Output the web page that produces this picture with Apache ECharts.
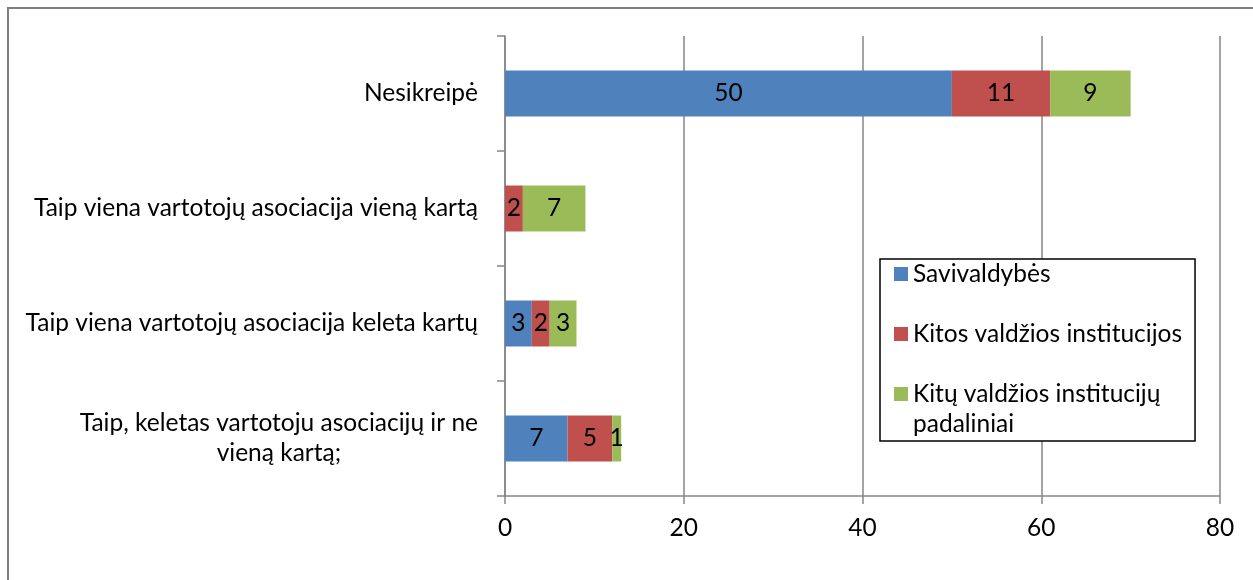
<!DOCTYPE html>
<html>
<head>
<meta charset="utf-8">
<script src="https://cdn.jsdelivr.net/npm/echarts@6/dist/echarts.min.js"></script>
<style>
html,body{margin:0;padding:0;background:#fff;overflow:hidden;}
#chart{position:absolute;left:0;top:0;width:1253px;height:580px;}
#frame{position:absolute;left:7px;top:7px;width:1400px;height:800px;border-left:2px solid #808080;border-top:2px solid #808080;pointer-events:none;}
</style>
</head>
<body>
<div id="chart"></div>
<div id="frame"></div>
<script>
const categories = [
  'Nesikreipė',
  'Taip viena vartotojų asociacija vieną kartą',
  'Taip viena vartotojų asociacija keleta kartų',
  'Taip, keletas vartotoju asociacijų ir ne\nvieną kartą;'
];
const seriesNames = ['Savivaldybės', 'Kitos valdžios institucijos', 'Kitų valdžios institucijų padaliniai'];
const legendLabels = ['Savivaldybės\n ', 'Kitos valdžios institucijos\n ', 'Kitų valdžios institucijų\npadaliniai'];
const savivaldybes = [50, 0, 3, 7];
const kitosInstitucijos = [11, 2, 2, 5];
const kituPadaliniai = [9, 7, 3, 1];
const xTicks = [0, 20, 40, 60, 80];

const FONT = 'Lato';
const FS = 24.5;
const colors = ['#4F81BD', '#C0504D', '#9BBB59'];
const values = [savivaldybes, kitosInstitucijos, kituPadaliniai];
// legend marker: 14x14 square at the top of a 14x44 icon box (aligned with first text line)
const LEGEND_ICON = 'path://M0,0H14V14H0Z M13.99,44H14V44.01H13.99Z';

const chart = echarts.init(document.getElementById('chart'), null, {renderer: 'canvas'});
const gridStyle = {color: '#868686', width: 1.5};
chart.setOption({
  animation: false,
  textStyle: {fontFamily: FONT},
  grid: {left: 505, right: 33, top: 36, bottom: 84, containLabel: false},
  xAxis: {
    type: 'value',
    min: xTicks[0], max: xTicks[xTicks.length - 1], interval: 20,
    axisLine: {show: true, lineStyle: gridStyle},
    axisTick: {show: true, length: 8, lineStyle: gridStyle},
    axisLabel: {fontSize: FS, color: '#000', margin: 20, fontFamily: FONT},
    splitLine: {show: true, lineStyle: gridStyle}
  },
  yAxis: {
    type: 'category',
    inverse: true,
    data: categories,
    axisLine: {show: true, lineStyle: gridStyle},
    axisTick: {show: true, length: 8, lineStyle: gridStyle},
    axisLabel: {
      fontSize: FS, color: '#000', margin: 27, fontFamily: FONT, lineHeight: 30,
      formatter: function (v) {
        if (v.indexOf('\n') >= 0) {
          return v.split('\n').map(s => '{c|' + s + '}').join('\n');
        }
        return v;
      },
      rich: {c: {align: 'center', fontSize: FS, color: '#000', fontFamily: FONT, lineHeight: 30}}
    }
  },
  legend: {
    orient: 'vertical',
    left: 880, top: 259,
    padding: [0, 13, 2, 14],
    itemGap: 0,
    itemWidth: 14, itemHeight: 44,
    backgroundColor: '#fff',
    borderColor: '#000', borderWidth: 1.5,
    textStyle: {fontSize: FS, color: '#000', fontFamily: FONT, lineHeight: 30},
    formatter: function (name) {
      return legendLabels[seriesNames.indexOf(name)];
    },
    data: seriesNames.map(n => ({name: n, icon: LEGEND_ICON}))
  },
  series: seriesNames.map((n, i) => ({
    name: n,
    type: 'bar',
    stack: 'total',
    barWidth: 46,
    data: values[i],
    itemStyle: {color: colors[i]},
    label: {
      show: true, position: 'inside', color: '#000', fontSize: FS, fontFamily: FONT,
      formatter: p => (p.value === 0 ? '' : String(p.value))
    }
  }))
});
</script>
</body>
</html>
